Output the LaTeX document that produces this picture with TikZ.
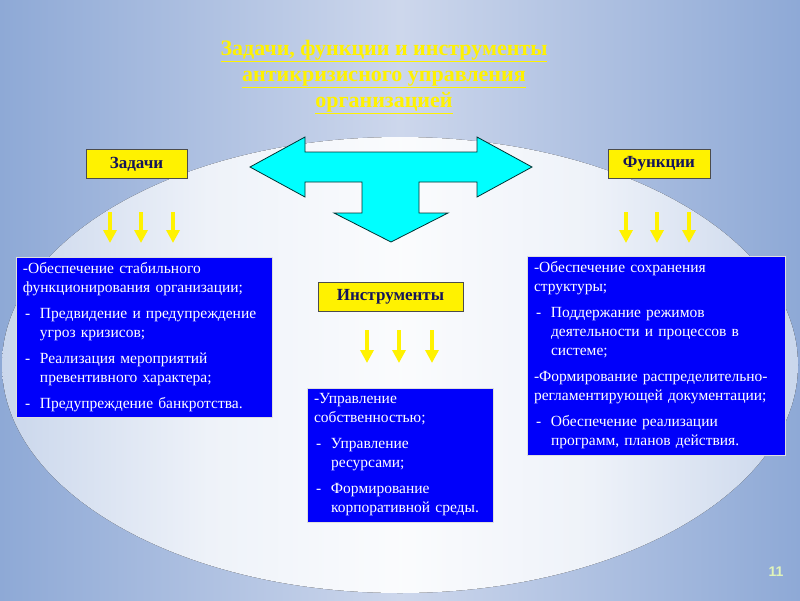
\documentclass[tikz,border=0pt]{standalone}
\usepackage{fontspec}
\setmainfont{Liberation Serif}
\newfontfamily\pagefont{Liberation Sans}
\usetikzlibrary{positioning, arrows.meta}
\definecolor{bgblue}{RGB}{142,169,214}
\definecolor{bglight}{RGB}{205,215,236}
\definecolor{boxblue}{RGB}{0,0,250}
\definecolor{navytext}{RGB}{20,20,90}
\definecolor{arrowcyan}{RGB}{0,255,255}
\definecolor{pagegreen}{RGB}{225,245,185}
\pgfdeclarehorizontalshading{glow}{100bp}{%
  color(0bp)=(bgblue); color(20bp)=(white!40!bgblue); color(38bp)=(white!85!bgblue);
  color(50bp)=(white!96!bgblue); color(62bp)=(white!85!bgblue); color(80bp)=(white!40!bgblue); color(100bp)=(bgblue)}
\newcommand{\itm}[1]{\par\vspace{7pt}\hangindent=17pt\hangafter=1\noindent\makebox[17pt][l]{\hspace{2pt}-}#1}
\tikzset{labelbox/.style={draw=black!70, fill=yellow, text=navytext, font=\bfseries\fontsize{17}{19}\selectfont, minimum height=29pt},
         bluebox/.style={draw=white!75!gray, fill=boxblue, text=white, align=left, font=\fontsize{15.5}{19}\selectfont, inner xsep=7pt, inner ysep=4pt},
         yarrow/.style={draw=yellow, line width=4pt, -{Triangle[width=13pt,length=13pt]}},
        }

\begin{document}
\begin{tikzpicture}[x=1pt, y=-1pt]
        \useasboundingbox (0,0) rectangle (800,600);
        % background
        \fill[left color=bgblue, right color=bgblue, middle color=bglight] (0,0) rectangle (800,600);
        \fill[shading=glow] (400,365) ellipse [x radius=398, y radius=228];

        \node[align=center, text=yellow, font=\bfseries\fontsize{22}{26}\selectfont](title)at(384,77)
            {\underline{Задачи, функции и инструменты}\\\underline{антикризисного управления}\\\underline{организацией}};

        % three-way arrow
        \filldraw[fill=arrowcyan, draw=black!60!teal, line width=0.8pt]
            (250,167)--(305,137)--(305,152)--(477,152)--(477,137)--(532,167)--(477,197)--(477,182)
            --(419,182)--(419,213)--(448,213)--(391,242)--(334,213)--(362,213)--(362,182)
            --(305,182)--(305,197)--cycle;

        \node[labelbox, minimum width=101pt](zad)at(136.5,164){Задачи};
        \node[labelbox, minimum width=102pt](func)at(659,164){Функции};
        \node[labelbox, minimum width=145pt](instr)at(390.5,296.5){Инструменты};

        \foreach \x in {110,141,173} \draw[yarrow](\x,212)--(\x,243);
        \foreach \x in {626,657,689} \draw[yarrow](\x,212)--(\x,243);
        \foreach \x in {367,399,432} \draw[yarrow](\x,330)--(\x,363);

        \node[bluebox, text width=242pt, minimum height=160pt](tasks)at(144,337){%
            -Обеспечение стабильного\\функционирования организации;
            \itm{Предвидение и предупреждение\newline угроз кризисов;}
            \itm{Реализация мероприятий\newline превентивного характера;}
            \itm{Предупреждение банкротства.}\par};
        \node[bluebox, text width=244pt, minimum height=199pt](funcs)at(656,355.5){%
            -Обеспечение сохранения\\структуры;
            \itm{Поддержание режимов\newline деятельности и процессов в\newline системе;}
            \par\vspace{7pt}\noindent-Формирование распределительно-\\регламентирующей документации;
            \itm{Обеспечение реализации\newline программ, планов действия.}\par};
        \node[bluebox, text width=172pt, minimum height=134pt](tools)at(400,455){%
            -Управление\\собственностью;
            \itm{Управление\newline ресурсами;}
            \itm{Формирование\newline корпоративной среды.}\par};

        \node[text=pagegreen, font=\pagefont\bfseries\fontsize{14}{16}\selectfont](pagenum)at(776,572){11};
    \end{tikzpicture}
\end{document}
